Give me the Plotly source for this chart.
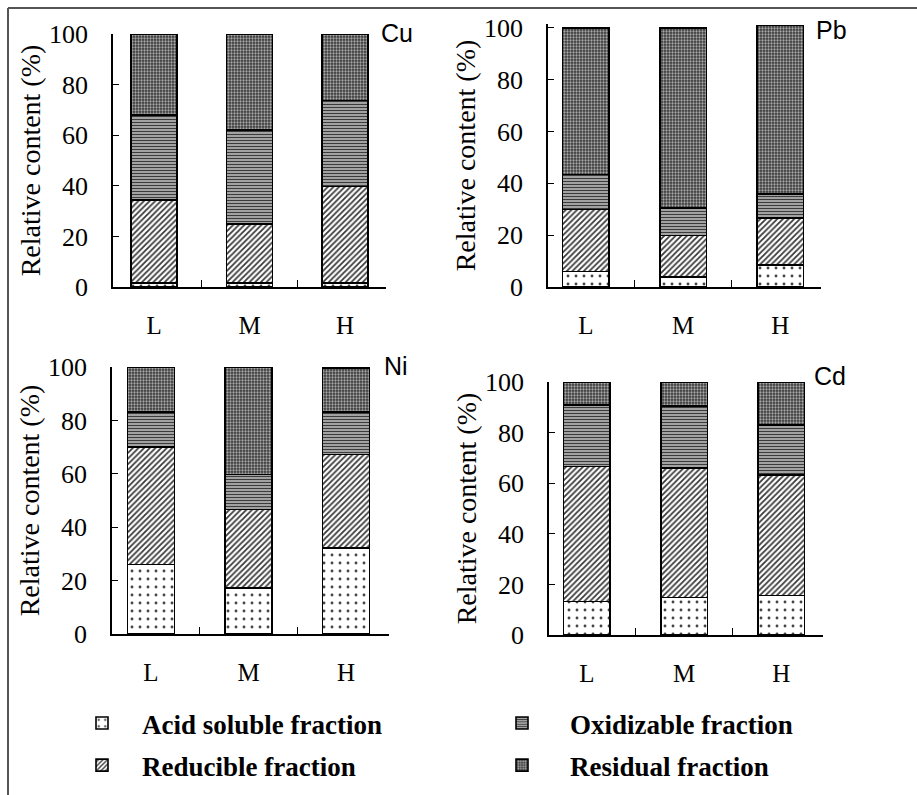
import plotly.graph_objects as go

W, H = 917, 795

categories = ["L", "M", "H"]
metals = ["Cu", "Pb", "Ni", "Cd"]
fractions = ["Acid soluble fraction", "Reducible fraction", "Oxidizable fraction", "Residual fraction"]

# values per metal (L, M, H) for each fraction (%)
cu_acid = [1.5, 1.5, 1.5]
cu_reducible = [32.8, 23.4, 38.2]
cu_oxidizable = [33.7, 37.1, 34.0]
cu_residual = [32.0, 38.0, 26.3]

pb_acid = [6.0, 3.9, 8.4]
pb_reducible = [23.9, 16.0, 18.2]
pb_oxidizable = [13.5, 10.6, 9.3]
pb_residual = [56.6, 69.5, 65.1]

ni_acid = [26.0, 17.2, 32.2]
ni_reducible = [44.0, 29.4, 35.0]
ni_oxidizable = [13.1, 13.1, 15.9]
ni_residual = [16.9, 40.3, 16.5]

cd_acid = [13.2, 14.8, 15.6]
cd_reducible = [53.4, 51.2, 47.7]
cd_oxidizable = [24.4, 24.4, 19.8]
cd_residual = [9.0, 9.6, 16.9]

data = {
    "Cu": [cu_acid, cu_reducible, cu_oxidizable, cu_residual],
    "Pb": [pb_acid, pb_reducible, pb_oxidizable, pb_residual],
    "Ni": [ni_acid, ni_reducible, ni_oxidizable, ni_residual],
    "Cd": [cd_acid, cd_reducible, cd_oxidizable, cd_residual],
}

patterns = [
    dict(shape=".", bgcolor="white", fgcolor="#444444", size=8, solidity=0.1, fillmode="replace"),
    dict(shape="/", bgcolor="white", fgcolor="#3a3a3a", size=4, solidity=0.45, fillmode="replace"),
    dict(shape="-", bgcolor="#c4c4c4", fgcolor="#3c3c3c", size=3, solidity=0.5, fillmode="replace"),
    dict(shape=".", bgcolor="#383838", fgcolor="#a8a8a8", size=3, solidity=0.45, fillmode="replace"),
]
legend_of = ["legend", "legend", "legend2", "legend2"]

# panel pixel geometry
panels = {
    "Cu": dict(x0=113, x1=386, yt=34, yb=287, ymax=100, xr=[-0.43, 2.43], lab=(397, 33)),
    "Pb": dict(x0=548, x1=821, yt=24, yb=287, ymax=101.5, xr=[-0.39, 2.42], lab=(831, 30)),
    "Ni": dict(x0=112, x1=389, yt=367, yb=634, ymax=100, xr=[-0.40, 2.44], lab=(396, 366)),
    "Cd": dict(x0=549, x1=823, yt=382, yb=635, ymax=100, xr=[-0.39, 2.43], lab=(830, 376)),
}

serif = "Liberation Serif, Times New Roman, serif"
sans = "Liberation Sans, Arial, sans-serif"

fig = go.Figure()
layout = {}
annotations = []
for i, m in enumerate(metals):
    p = panels[m]
    n = "" if i == 0 else str(i + 1)
    for j, fr in enumerate(fractions):
        fig.add_trace(go.Bar(
            x=categories, y=data[m][j], name=fr,
            xaxis="x" + n, yaxis="y" + n,
            width=0.48,
            marker=dict(color=patterns[j]["bgcolor"], pattern=patterns[j],
                        line=dict(color="black", width=1.6)),
            showlegend=(i == 0), legend=legend_of[j], legendgroup=fr,
        ))
    layout["xaxis" + n] = dict(
        domain=[p["x0"] / W, p["x1"] / W], anchor="y" + n, range=p["xr"],
        showline=True, linecolor="black", linewidth=1.5,
        ticks="inside", tickson="boundaries", ticklen=7, tickwidth=1.3, tickcolor="black",
        showgrid=False, zeroline=False, ticklabelstandoff=15,
        tickfont=dict(family=serif, size=25, color="black"),
        automargin=False,
    )
    layout["yaxis" + n] = dict(
        domain=[1 - p["yb"] / H, 1 - p["yt"] / H], anchor="x" + n, range=[0, p["ymax"]],
        tickvals=[0, 20, 40, 60, 80, 100],
        showline=True, linecolor="black", linewidth=1.5,
        ticks="inside", ticklen=6, tickwidth=1.3, tickcolor="black",
        showgrid=False, zeroline=False, ticklabelstandoff=18,
        tickfont=dict(family=serif, size=26, color="black"),
        title=dict(text="Relative content (%)", font=dict(family=serif, size=28, color="black"), standoff=0),
        automargin=False,
    )
    annotations.append(dict(
        x=p["lab"][0] / W, y=1 - p["lab"][1] / H, xref="paper", yref="paper",
        text=m, showarrow=False, xanchor="center", yanchor="middle",
        font=dict(family=sans, size=25, color="black"),
    ))

legend_font = dict(family=serif, size=27, color="black", weight="bold")
fig.update_layout(
    **layout,
    width=W, height=H,
    margin=dict(l=0, r=0, t=0, b=0),
    paper_bgcolor="white", plot_bgcolor="white",
    barmode="stack",
    annotations=annotations,
    legend=dict(
        x=62 / W, y=1 - 699 / H, xanchor="left", yanchor="top",
        traceorder="grouped", tracegroupgap=4, itemwidth=70,
        font=legend_font, bgcolor="rgba(0,0,0,0)",
    ),
    legend2=dict(
        x=474 / W, y=1 - 699 / H, xanchor="left", yanchor="top",
        traceorder="grouped", tracegroupgap=4, itemwidth=86,
        font=legend_font, bgcolor="rgba(0,0,0,0)",
    ),
    shapes=[
        dict(type="line", xref="paper", yref="paper", x0=8 / W, x1=1, y0=1 - 8 / H, y1=1 - 8 / H,
             line=dict(color="#555555", width=2)),
        dict(type="line", xref="paper", yref="paper", x0=8 / W, x1=8 / W, y0=0, y1=1 - 8 / H,
             line=dict(color="#555555", width=2)),
    ],
)

fig.write_html("out.html")
